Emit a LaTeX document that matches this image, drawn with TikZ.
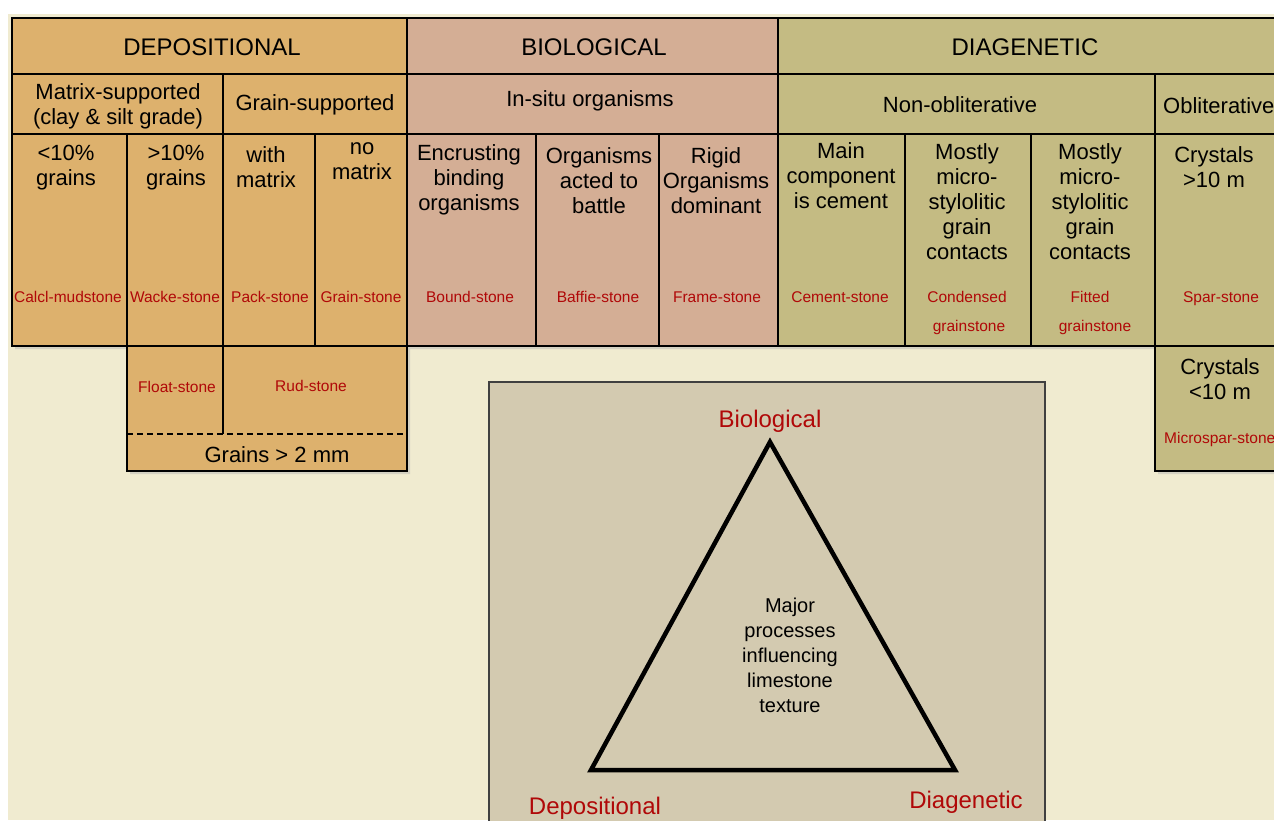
\documentclass[tikz,border=0pt]{standalone}
\usepackage{fontspec}
\setmainfont{Liberation Sans}
\usetikzlibrary{calc}

\definecolor{cream}{RGB}{240,235,208}
\definecolor{depfill}{RGB}{221,177,109}
\definecolor{biofill}{RGB}{212,174,149}
\definecolor{diafill}{RGB}{196,187,131}
\definecolor{trifill}{RGB}{211,202,176}
\definecolor{stonered}{RGB}{176,8,8}

\begin{document}
\begin{tikzpicture}[x=1pt,y=-1pt,
	hdr/.style={font=\fontsize{24}{28}\selectfont, inner sep=0pt},
	sub/.style={font=\fontsize{22}{25}\selectfont, align=center, inner sep=0pt},
	cell/.style={font=\fontsize{22}{25}\selectfont, align=center, inner sep=0pt},
	stone/.style={font=\fontsize{15.5}{18}\selectfont, text=stonered, inner sep=0pt, anchor=base},
	corner/.style={font=\fontsize{24}{28}\selectfont, text=stonered, inner sep=0pt},
	grid/.style={line width=1.3pt},
	outer/.style={line width=2pt, line join=miter}]
		%%%%% START %%%%%
		\useasboundingbox (0,0) rectangle (1274,820);
		\fill[white] (0,0) rectangle (1274,820);
		\fill[cream] (8,14) rectangle (1274,820);
		
		% soft shadow
		\fill[black!30, opacity=0.45] (15,21) -- (1280,21) -- (1280,474) -- (1158,474) -- (1158,349)
			-- (410,349) -- (410,474) -- (130,474) -- (130,349) -- (15,349) -- cycle;
		
		% coloured blocks
		\fill[depfill] (12,18) rectangle (407,346);
		\fill[depfill] (127,346) rectangle (407,471);
		\fill[biofill] (407,18) rectangle (778,346);
		\fill[diafill] (778,18) rectangle (1280,346);
		\fill[diafill] (1155,346) rectangle (1280,471);
		
		% grid
		\draw[grid] (12,74) -- (1280,74);
		\draw[grid] (12,134) -- (1280,134);
		\draw[grid] (127,346) -- (407,346);
		\draw[grid] (1155,346) -- (1280,346);
		\draw[grid] (407,18) -- (407,346);
		\draw[grid] (778,18) -- (778,346);
		\draw[grid] (223,74) -- (223,434);
		\draw[grid] (127,134) -- (127,346);
		\draw[grid] (315,134) -- (315,346);
		\draw[grid] (536,134) -- (536,346);
		\draw[grid] (659,134) -- (659,346);
		\draw[grid] (905,134) -- (905,346);
		\draw[grid] (1031,134) -- (1031,346);
		\draw[grid] (1155,74) -- (1155,346);
		\draw[line width=2pt, dash pattern=on 6pt off 4pt] (127,434) -- (407,434);
		\draw[outer] (1280,18) -- (12,18) -- (12,346) -- (127,346) -- (127,471) -- (407,471)
			-- (407,346) -- (1155,346) -- (1155,471) -- (1280,471);
		
		% headers
		\node[hdr] (depo) at (212,47) {DEPOSITIONAL};
		\node[hdr] (bioh) at (594,47) {BIOLOGICAL};
		\node[hdr] (diah) at (1025,47) {DIAGENETIC};
		
		\node[sub] (matsup) at (118,106) {Matrix-supported\\(clay \& silt grade)};
		\node[sub] (grsup) at (315,105) {Grain-supported};
		\node[sub] (insitu) at (590,101) {In-situ organisms};
		\node[sub] (nonob) at (960,105) {Non-obliterative};
		\node[sub, anchor=west] (oblit) at (1163,106) {Obliterative};
		
		% cells
		\node[cell] (lt10) at (66,168) {<10\%\\grains};
		\node[cell] (gt10) at (176,168) {>10\%\\grains};
		\node[cell] (withm) at (266,167) {with\\matrix};
		\node[cell] (nom) at (362,161) {no\\matrix};
		\node[cell] (encr) at (469,180) {Encrusting\\binding\\organisms};
		\node[cell] (acted) at (599,181) {Organisms\\acted to\\battle};
		\node[cell] (rigid) at (716,181) {Rigid\\Organisms\\dominant};
		\node[cell] (mainc) at (841,176) {Main\\component\\is cement};
		\node[cell] (styl1) at (967,202) {Mostly\\micro-\\stylolitic\\grain\\contacts};
		\node[cell] (styl2) at (1090,202) {Mostly\\micro-\\stylolitic\\grain\\contacts};
		\node[cell] (cryst1) at (1214,167) {Crystals\\>10 m};
		\node[cell] (cryst2) at (1220,379) {Crystals\\<10 m};
		
		% rock names
		\node[stone] (calcl) at (68,302) {Calcl-mudstone};
		\node[stone] (wacke) at (175,302) {Wacke-stone};
		\node[stone] (pack) at (270,302) {Pack-stone};
		\node[stone] (grain) at (361,302) {Grain-stone};
		\node[stone] (bound) at (470,302) {Bound-stone};
		\node[stone] (baffle) at (598,302) {Baffie-stone};
		\node[stone] (frame) at (717,302) {Frame-stone};
		\node[stone] (cement) at (840,302) {Cement-stone};
		\node[stone] (cond) at (967,302) {Condensed};
		\node[stone] (condg) at (969,331) {grainstone};
		\node[stone] (fitt) at (1090,302) {Fitted};
		\node[stone] (fittg) at (1095,331) {grainstone};
		\node[stone] (spar) at (1221,302) {Spar-stone};
		\node[stone, anchor=base west] (micro) at (1164,443) {Microspar-stone};
		\node[stone] (float) at (177,392) {Float-stone};
		\node[stone] (rud) at (311,391) {Rud-stone};
		\node[cell] (gr2mm) at (277,455) {Grains > 2 mm};
		
		% triangle
		\draw[line width=1.5pt, draw=black!75, fill=trifill] (489,382) rectangle (1045,830);
		\coordinate (tbio) at (770,442);
		\coordinate (tdep) at (591,770);
		\coordinate (tdia) at (955,770);
		\draw[line width=4.5pt] (tbio) -- (tdep) -- (tdia) -- cycle;
		\node[corner] (lbio) at (770,421) {Biological};
		\node[corner] (ldep) at (595,808) {Depositional};
		\node[corner] (ldia) at (966,802) {Diagenetic};
		\node[font=\fontsize{20}{25}\selectfont, align=center, inner sep=0pt] (major) at (790,655)
			{Major\\processes\\influencing\\limestone\\texture};
		%%%%% END %%%%%
\end{tikzpicture}
\end{document}
